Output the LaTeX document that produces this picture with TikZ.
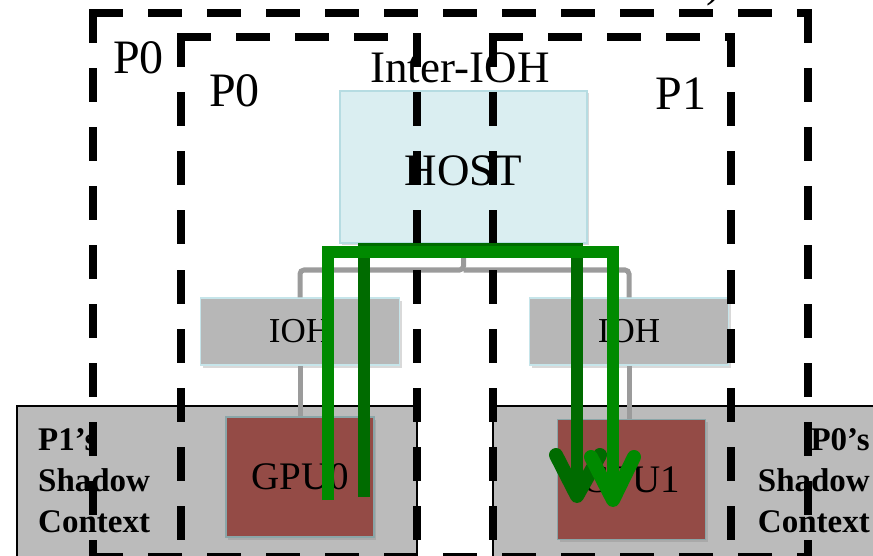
\documentclass[tikz,border=0pt]{standalone}
\usepackage{fontspec}
\setmainfont{Liberation Serif}
\usetikzlibrary{calc,shadows}
\definecolor{hostfill}{HTML}{DAEEF1}
\definecolor{hostline}{HTML}{B6DCE2}
\definecolor{iohfill}{HTML}{B7B7B7}
\definecolor{iohline}{HTML}{C6E5EA}
\definecolor{ctxfill}{HTML}{BBBBBB}
\definecolor{gpufill}{HTML}{944B46}
\definecolor{gpuline}{HTML}{8AA6A8}
\definecolor{conncol}{HTML}{9B9B9B}
\definecolor{gbright}{HTML}{008A00}
\definecolor{gdark}{HTML}{006B00}
\newcommand\myfs[1]{\fontsize{#1}{#1}\selectfont}
\begin{document}
\begin{tikzpicture}[x=1pt,y=-1pt,
  box/.style={draw, line width=1.5pt, inner sep=0pt, anchor=center},
  softshadow/.style={drop shadow={shadow xshift=2pt,shadow yshift=-2.5pt,opacity=0.3}},
  hostbox/.style={box, fill=hostfill, draw=hostline, softshadow, minimum width=247pt, minimum height=152pt, font=\myfs{45}, text height=38pt, text depth=0pt},
  iohbox/.style={box, fill=iohfill, draw=iohline, softshadow, minimum width=199pt, minimum height=67pt, font=\myfs{35}},
  ctxbox/.style={box, fill=ctxfill, draw=black, line width=1.2pt},
  gpubox/.style={box, fill=gpufill, draw=gpuline, softshadow, minimum width=148pt, minimum height=120pt, font=\myfs{39}},
  ctxlabel/.style={inner sep=0pt, font=\bfseries\fontsize{33}{41}\selectfont},
  lbl/.style={inner sep=0pt, anchor=base, font=\myfs{48}},
  conn/.style={draw=conncol, line width=5pt, rounded corners=4pt},
  dashline/.style={draw=black, line width=8pt, line cap=rect, dash pattern=on 26pt off 33pt},
  gpath/.style={line width=12.5pt},
  gwing/.style={line width=14pt, line cap=round, line join=round}
]
\useasboundingbox (0,0) rectangle (873,556);
% shadow context boxes
\node[ctxbox, minimum width=400pt, minimum height=214pt] (ctxL) at (217,513) {};
\node[ctxbox, minimum width=460pt, minimum height=214pt] (ctxR) at (723,513) {};
\node[ctxlabel, anchor=base west, align=left] (ctxLtxt) at (38,532) {P1’s\\Shadow\\Context};
\node[ctxlabel, anchor=base east, align=right] (ctxRtxt) at (870,532) {P0’s\\Shadow\\Context};
% boxes
\node[hostbox] (host) at (463.5,167) {HOST};
\node[iohbox] (iohL) at (300,331.5) {IOH};
\node[iohbox] (iohR) at (629,331.5) {IOH};
\node[gpubox] (gpuL) at (300,477) {GPU0};
\node[gpubox] (gpuR) at (631.5,479.5) {GPU1};
% connectors
\coordinate (hub) at (463.5,270);
\draw[conn] (host.south) -- (hub) -| (iohL.north);
\draw[conn] (hub) -| (iohR.north);
\draw[conn] (iohL.south) -- (gpuL.north);
\draw[conn] (iohR.south) -- (iohR.south |- gpuR.north);
% labels
\node[lbl] (p0outer) at (138.5,74) {P0};
\node[lbl] (p0inner) at (234.5,107) {P0};
\node[lbl] (p1) at (681,110) {P1};
\node[lbl, font=\myfs{45}] (interioh) at (460,83) {Inter-IOH};
\node[lbl, font=\myfs{45}, anchor=base west] (frag) at (706,-3) {)};
% dashed frames
\coordinate (oTL) at (93,13);  \coordinate (oTR) at (808,13);
\coordinate (oBL) at (93,557); \coordinate (oBR) at (808,557);
\coordinate (aTL) at (181,37.5); \coordinate (aTR) at (417,37.5);
\coordinate (aBL) at (181,620);  \coordinate (aBR) at (417,620);
\coordinate (bTL) at (493,37.5); \coordinate (bTR) at (731,37.5);
\coordinate (bBL) at (493,620);  \coordinate (bBR) at (731,620);
\draw[dashline] (oTL) -- (oTR);
\draw[dashline] (oTR) -- (oBR);
\draw[dashline] (oTL) -- (oBL);
\draw[dashline] (oBL) -- (oBR);
\draw[dashline] (aTL) -- (aTR);
\draw[dashline] (aTL) -- (aBL);
\draw[dashline] (aTR) -- (aBR);
\draw[dashline] (bTL) -- (bTR);
\draw[dashline] (bTL) -- (bBL);
\draw[dashline] (bTR) -- (bBR);
% green transfer paths
\coordinate (gs1) at (328,500); \coordinate (gc1) at (613,252); \coordinate (ge1) at (613,500);
\coordinate (gs2) at (364,497); \coordinate (gc2) at (577,249); \coordinate (ge2) at (577,496);
\draw[gpath, draw=gdark] (gs2) |- (gc2) -- (ge2);
\draw[gwing, draw=gdark] ($(ge2)+(-21,-41)$) -- (ge2) -- ($(ge2)+(23,-41)$);
\draw[gpath, draw=gbright] (gs1) |- (gc1) -- (ge1);
\draw[gwing, draw=gbright] ($(ge1)+(-22,-43)$) -- (ge1) -- ($(ge1)+(21,-43)$);
\end{tikzpicture}
\end{document}
